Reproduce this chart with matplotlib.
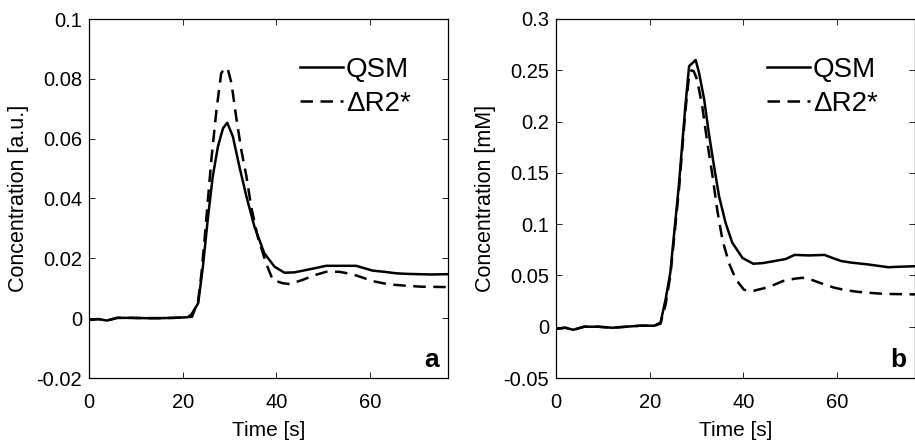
import matplotlib
matplotlib.use("Agg")
import matplotlib.pyplot as plt

plt.rcParams['font.family'] = ['Liberation Sans', 'DejaVu Sans']

# panel a: concentration [a.u.]
t_a_qsm = [0, 2, 3.8, 6, 9, 12, 15, 18, 21, 21.8, 23.3, 24.3, 25.4, 26.4, 27.5,
           28.6, 29.5, 30.7, 32.1, 33.6, 35.3, 37.4, 39.6, 41.7, 43.8, 46.3,
           48.5, 50.6, 54, 57.0, 60.5, 63, 65.5, 68, 70.4, 73, 76.5]
qsm_a = [-0.0006, -0.0003, -0.0008, 0.0001, 0.0001, 0.0, 0.0, 0.0001, 0.0003,
         0.0011, 0.005, 0.0172, 0.0339, 0.0473, 0.0573, 0.0635, 0.0653, 0.0607,
         0.0506, 0.0406, 0.0306, 0.0217, 0.0172, 0.0152, 0.0153, 0.0161, 0.0168,
         0.0175, 0.0175, 0.0175, 0.0159, 0.0155, 0.015, 0.0148, 0.0147, 0.0146,
         0.0147]

t_a_r2 = [0, 2, 3.8, 6, 9, 12, 15, 18, 21, 22, 23.3, 24.0, 24.7, 26.1, 27.2,
          28.2, 28.9, 29.6, 30.4, 31.4, 32.5, 33.6, 34.6, 36.0, 37.8, 39.2,
          41.3, 42.8, 45.6, 48, 50.6, 53.4, 56.2, 58.3, 60.5, 63, 65.5, 68,
          71.1, 76.5]
r2_a = [-0.0006, -0.0003, -0.0008, 0.0001, 0.0001, 0.0, 0.0, 0.0001, 0.0003,
        0.0005, 0.006, 0.015, 0.0272, 0.0529, 0.0696, 0.0818, 0.0835, 0.0834,
        0.0785, 0.0673, 0.0562, 0.0473, 0.0373, 0.0272, 0.0183, 0.0128, 0.0117,
        0.0114, 0.0128, 0.0143, 0.0155, 0.0155, 0.0147, 0.0136, 0.0124, 0.0116,
        0.0111, 0.0108, 0.0105, 0.0104]

# panel b: concentration [mM]
t_b_qsm = [0, 2, 3.7, 6, 9, 12, 15, 18, 21, 22.3, 23.4, 24.4, 24.8, 26.2, 27.6,
           28.4, 29.8, 30.5, 31.6, 32.6, 33.7, 34.8, 36.2, 37.6, 39.8, 42.1,
           44.1, 46.6, 49, 50.9, 54, 57.3, 59, 60.9, 63, 66.6, 70.9, 73.5, 76.8]
qsm_b = [-0.002, -0.001, -0.003, 0.0, 0.0, -0.001, 0.0, 0.001, 0.001, 0.004,
         0.027, 0.053, 0.072, 0.137, 0.215, 0.254, 0.26, 0.248, 0.222, 0.189,
         0.157, 0.127, 0.101, 0.082, 0.067, 0.0614, 0.062, 0.064, 0.066, 0.070,
         0.0695, 0.070, 0.067, 0.064, 0.0625, 0.0607, 0.058, 0.0585, 0.059]

t_b_r2 = [0, 2, 3.7, 6, 9, 12, 15, 18, 21, 22.3, 23.4, 24.4, 24.8, 26.2, 27.6,
          28.4, 28.9, 29.4, 30.1, 31.2, 32.3, 33.4, 34.4, 35.5, 36.9, 38.4,
          40.1, 41.9, 44.8, 46.6, 48.4, 50.9, 52.6, 54.4, 56.2, 59.4, 62, 64.4,
          67, 70.1, 76.8]
r2_b = [-0.002, -0.001, -0.003, 0.0, 0.0, -0.001, 0.0, 0.001, 0.001, 0.003,
        0.022, 0.05, 0.068, 0.132, 0.21, 0.245, 0.25, 0.249, 0.241, 0.215,
        0.179, 0.147, 0.114, 0.085, 0.062, 0.046, 0.036, 0.0347, 0.038, 0.041,
        0.0445, 0.0468, 0.0477, 0.046, 0.0429, 0.038, 0.0355, 0.034, 0.033,
        0.032, 0.0315]

panels = [
    dict(t1=t_a_qsm, y1=qsm_a, t2=t_a_r2, y2=r2_a, ylim=(-0.02, 0.1),
         yticks=[-0.02, 0, 0.02, 0.04, 0.06, 0.08, 0.1],
         yticklabels=['-0.02', '0', '0.02', '0.04', '0.06', '0.08', '0.1'],
         ylabel='Concentration [a.u.]', letter='a', left=89),
    dict(t1=t_b_qsm, y1=qsm_b, t2=t_b_r2, y2=r2_b, ylim=(-0.05, 0.3),
         yticks=[-0.05, 0, 0.05, 0.1, 0.15, 0.2, 0.25, 0.3],
         yticklabels=['-0.05', '0', '0.05', '0.1', '0.15', '0.2', '0.25', '0.3'],
         ylabel='Concentration [mM]', letter='b', left=556),
]

W, H = 915, 440
fig = plt.figure(figsize=(W / 100, H / 100), dpi=100)

for p in panels:
    ax = fig.add_axes([p['left'] / W, (H - 378) / H, 359 / W, 359 / H])
    ax.plot(p['t1'], p['y1'], color='black', lw=1.8, label='QSM')
    ax.plot(p['t2'], p['y2'], color='black', lw=1.8, dashes=(5.0, 3.0),
            label='\u0394R2*')
    ax.set_xlim(0, 76.6)
    ax.set_ylim(*p['ylim'])
    ax.set_xticks([0, 20, 40, 60])
    ax.set_yticks(p['yticks'])
    ax.set_yticklabels(p['yticklabels'])
    ax.tick_params(direction='in', top=True, right=True, length=4, width=0.6,
                   labelsize=14.5)
    ax.tick_params(axis='x', pad=10.5)
    ax.tick_params(axis='y', pad=5)
    for s in ax.spines.values():
        s.set_linewidth(0.9)
    ax.set_xlabel('Time [s]', fontsize=15, labelpad=7)
    ax.set_ylabel(p['ylabel'], fontsize=15.5, labelpad=5)
    ax.legend(loc='upper right', frameon=False, fontsize=20, handlelength=1.58,
              handletextpad=0.08, labelspacing=0.3, borderaxespad=0.5,
              bbox_to_anchor=(0.965, 0.965))
    ax.text(0.975, 0.03, p['letter'], transform=ax.transAxes, ha='right',
            va='baseline', fontsize=19, fontweight='bold')

fig.savefig('out.png', dpi=100)
